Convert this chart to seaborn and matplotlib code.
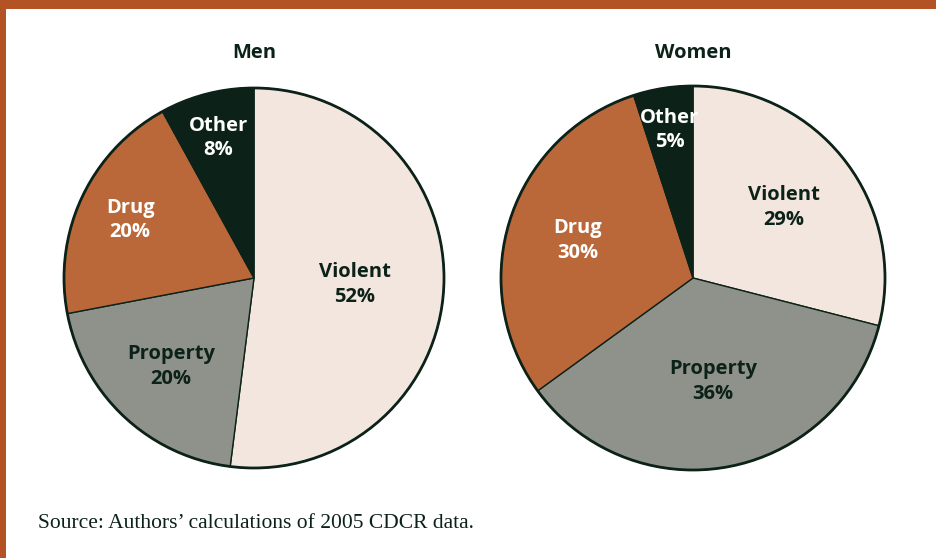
import numpy as np
import matplotlib
matplotlib.use("Agg")
import matplotlib.pyplot as plt
import seaborn as sns

# Offense categories and shares (%) by sex
categories = ["Violent", "Property", "Drug", "Other"]
men_share = [52, 20, 20, 8]
women_share = [29, 36, 30, 5]
panel_titles = ["Men", "Women"]
source_note = "Source: Authors\u2019 calculations of 2005 CDCR data."

sns.set_theme(style="white")
plt.rcParams["font.family"] = ["Open Sans", "DejaVu Sans"]

palette = sns.color_palette(["#F3E6DE", "#8F928B", "#BA683A", "#0C2218"])
label_colors = ["#0C2218", "#0C2218", "white", "white"]
dark = "#0C2218"
frame = "#B35225"

W, H = 936, 558
fig = plt.figure(figsize=(W / 100, H / 100), dpi=100)
fig.patch.set_facecolor("white")

# Frame: top band and left rule
fig.add_artist(plt.Rectangle((0, 1 - 9 / H), 1, 9 / H, transform=fig.transFigure,
                             facecolor=frame, edgecolor="none"))
fig.add_artist(plt.Rectangle((0, 0), 6 / W, 1, transform=fig.transFigure,
                             facecolor=frame, edgecolor="none"))

panels = [
    dict(values=men_share, cx=254, cy=278, r=190,
         dist=[0.53, 0.64, 0.72, 0.76]),
    dict(values=women_share, cx=693, cy=278, r=192,
         dist=[0.60, 0.55, 0.63, 0.78]),
]

lim = 1.03
for title, p in zip(panel_titles, panels):
    half = p["r"] * lim
    ax = fig.add_axes([(p["cx"] - half) / W, (H - p["cy"] - half) / H,
                       2 * half / W, 2 * half / H])
    wedges, _ = ax.pie(p["values"], colors=palette, startangle=90,
                       counterclock=False, radius=1,
                       wedgeprops=dict(edgecolor=dark, linewidth=1.0))
    # outer rim
    ax.add_patch(plt.Circle((0, 0), 1, fill=False, edgecolor=dark, linewidth=2.0))
    for w, cat, val, d, tc in zip(wedges, categories, p["values"], p["dist"], label_colors):
        mid = np.deg2rad((w.theta1 + w.theta2) / 2)
        ax.text(d * np.cos(mid), d * np.sin(mid), f"{cat}\n{val}%",
                ha="center", va="center", color=tc, fontsize=14.5,
                fontweight="bold", linespacing=1.3)
    ax.set_xlim(-lim, lim)
    ax.set_ylim(-lim, lim)
    ax.set_aspect("equal")
    ax.axis("off")
    fig.text(p["cx"] / W, 1 - 53 / H, title, ha="center", va="center",
             fontsize=14.5, fontweight="bold", color=dark)

fig.text(38 / W, 1 - 523 / H, source_note, ha="left", va="center",
         fontsize=15.5, color=dark, family=["Liberation Serif", "DejaVu Serif"])

fig.savefig("out.png", dpi=100, facecolor="white")
